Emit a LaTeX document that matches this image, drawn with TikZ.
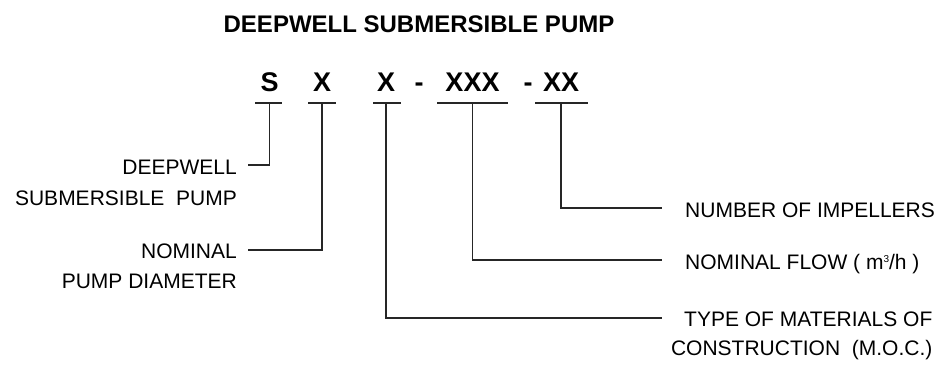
\documentclass[tikz,border=0pt]{standalone}
\usepackage{fontspec}
\setmainfont{Liberation Sans}
\begin{document}
\begin{tikzpicture}[x=1pt,y=-1pt,
  code/.style={font=\fontsize{27}{30}\selectfont\bfseries, inner sep=0pt, anchor=base},
  lbl/.style={font=\fontsize{21}{24}\selectfont, inner sep=0pt},
  leader/.style={draw=black!85, line width=1.2pt}]
\useasboundingbox (0,0) rectangle (944,368);
% title
\node[font=\fontsize{24}{28}\selectfont\bfseries, inner sep=0pt, anchor=base] (title) at (419,32) {DEEPWELL SUBMERSIBLE PUMP};
% code letters
\node[code] (s)   at (269.5,91.5) {S};
\node[code] (x1)  at (322,91.5) {X};
\node[code] (x2)  at (386,91.5) {X};
\node[code] (d1)  at (419,91.5) {-};
\node[code] (xxx) at (472.5,91.5) {XXX};
\node[code] (d2)  at (528,91.5) {-};
\node[code] (xx)  at (561,91.5) {XX};
% underlines
\coordinate (sa) at (255,103);   \coordinate (sb) at (282,103);   \coordinate (sm) at (269.5,103);
\coordinate (x1a) at (308,103);  \coordinate (x1b) at (336,103);  \coordinate (x1m) at (322,103);
\coordinate (x2a) at (373,103);  \coordinate (x2b) at (401,103);  \coordinate (x2m) at (386,103);
\coordinate (xxxa) at (437,103); \coordinate (xxxb) at (508,103); \coordinate (xxxm) at (472.5,103);
\coordinate (xxa) at (535,103);  \coordinate (xxb) at (588,103);  \coordinate (xxm) at (561,103);
\draw[leader] (sa) -- (sb);
\draw[leader] (x1a) -- (x1b);
\draw[leader] (x2a) -- (x2b);
\draw[leader] (xxxa) -- (xxxb);
\draw[leader] (xxa) -- (xxb);
% left labels
\node[lbl, anchor=base east] (ls1) at (237,174) {DEEPWELL};
\node[lbl, anchor=base east] (ls2) at (237,205) {SUBMERSIBLE\ \ PUMP};
\node[lbl, anchor=base east] (ln1) at (237,258) {NOMINAL};
\node[lbl, anchor=base east] (ln2) at (237,288) {PUMP DIAMETER};
\coordinate (cs) at (248,165);
\coordinate (cn) at (248,250);
% right labels
\node[lbl, anchor=base west] (ri)  at (685,217) {NUMBER OF IMPELLERS};
\node[lbl, anchor=base west] (rf)  at (685,269) {NOMINAL FLOW ( m\raisebox{7pt}{\fontsize{10}{10}\selectfont 3}/h )};
\node[lbl, anchor=base west] (rt1) at (684,326) {TYPE OF MATERIALS OF};
\node[lbl, anchor=base east] (rt2) at (rt1.base east) [yshift=-29pt] {CONSTRUCTION\ \ (M.O.C.)};
\coordinate (ci) at (662,208);
\coordinate (cf) at (662,260);
\coordinate (ct) at (662,318);
% leaders
\draw[leader] (sm) |- (cs);
\draw[leader] (x1m) |- (cn);
\draw[leader] (xxm) |- (ci);
\draw[leader] (xxxm) |- (cf);
\draw[leader] (x2m) |- (ct);
\end{tikzpicture}
\end{document}
